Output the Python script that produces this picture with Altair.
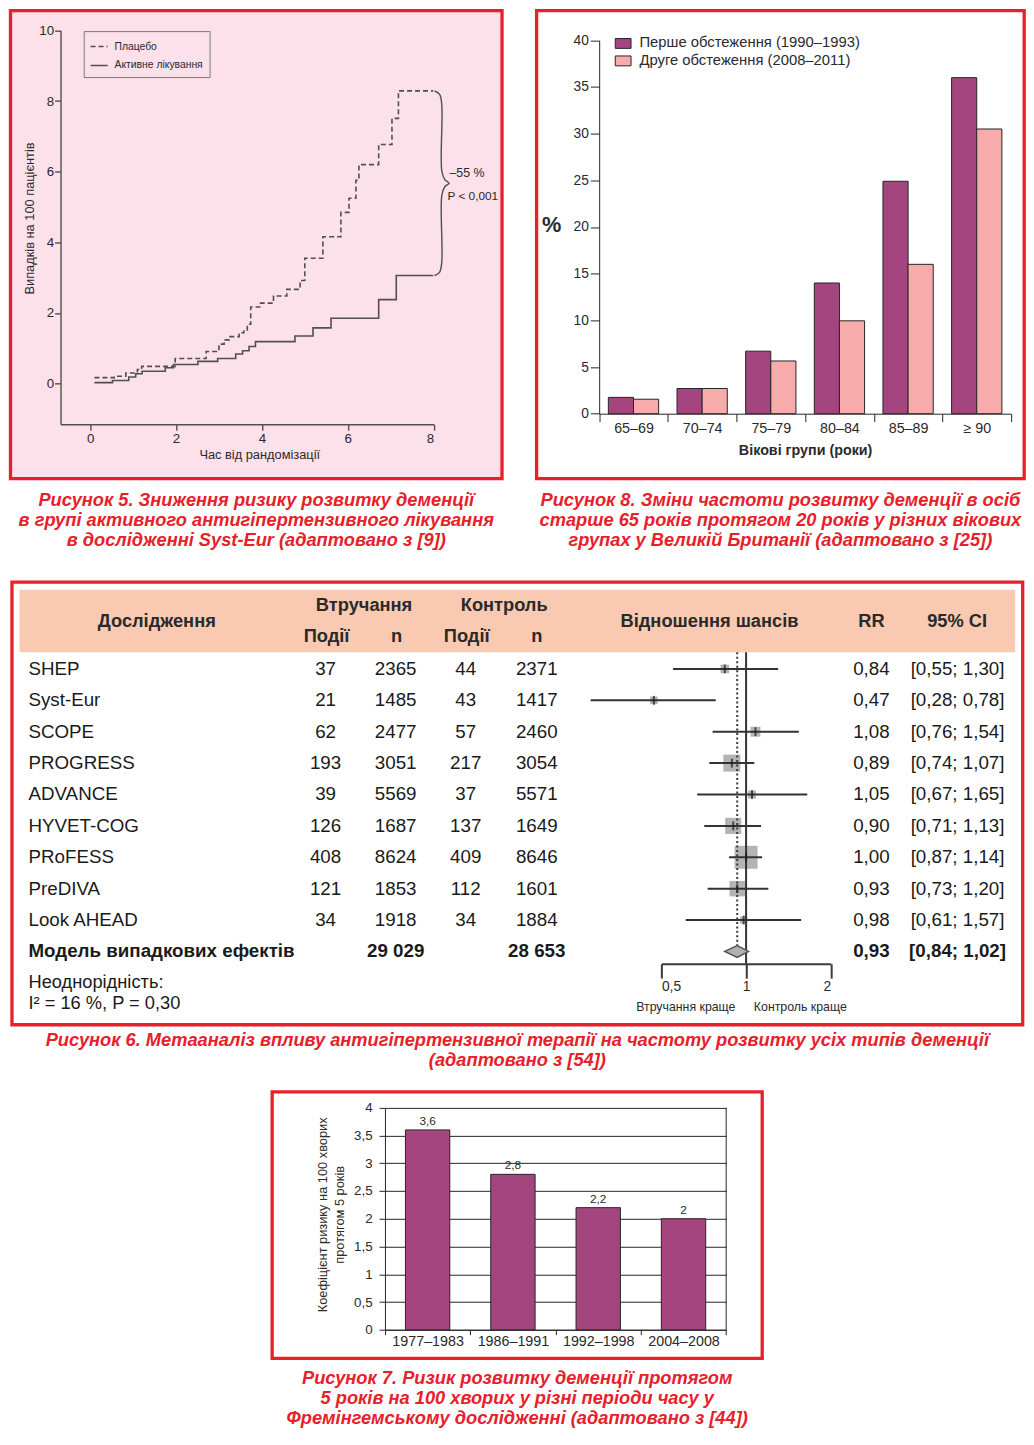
import altair as alt
import pandas as pd

# ====================== DATA ======================
# --- Fig. 5: cumulative dementia cases (Syst-Eur) ---
km_series = ["Плацебо", "Активне лікування"]
placebo_t = [0.1, 0.56, 0.83, 1.1, 1.2, 1.98, 2.7, 3.0, 3.12, 3.24, 3.47, 3.58, 3.66, 3.74,
             3.97, 4.27, 4.58, 4.89, 5.0, 5.42, 5.84, 6.03, 6.19, 6.26, 6.72, 7.03, 7.18, 7.99]
placebo_v = [0.17, 0.21, 0.3, 0.4, 0.49, 0.71, 0.91, 1.12, 1.24, 1.33, 1.44, 1.52, 1.68, 2.17,
             2.28, 2.48, 2.67, 2.92, 3.55, 4.16, 4.85, 5.25, 5.76, 6.2, 6.77, 7.51, 8.29, 8.29]
active_t = [0.1, 0.52, 0.9, 1.06, 1.21, 1.75, 1.94, 2.51, 2.97, 3.39, 3.55, 3.7, 3.85, 4.77,
            5.19, 5.61, 6.72, 7.13, 7.99]
active_v = [0.03, 0.09, 0.19, 0.28, 0.35, 0.45, 0.54, 0.63, 0.71, 0.84, 0.93, 1.05, 1.19, 1.35,
            1.58, 1.85, 2.38, 3.06, 3.06]
km_ticks_x = [0, 2, 4, 6, 8]
km_ticks_y = [0, 2, 4, 6, 8, 10]
km_effect = ["–55 %", "P < 0,001"]

# --- Fig. 8: dementia frequency by age group ---
age_groups = ["65–69", "70–74", "75–79", "80–84", "85–89", "≥ 90"]
surveys = ["Перше обстеження (1990–1993)", "Друге обстеження (2008–2011)"]
first_pct = [1.75, 2.7, 6.7, 14.0, 24.9, 36.0]
second_pct = [1.55, 2.7, 5.65, 9.95, 16.0, 30.5]
pct_ticks = [0, 5, 10, 15, 20, 25, 30, 35, 40]

# --- Fig. 6: meta-analysis ---
studies = ["SHEP", "Syst-Eur", "SCOPE", "PROGRESS", "ADVANCE", "HYVET-COG", "PRoFESS",
           "PreDIVA", "Look AHEAD"]
int_events = [37, 21, 62, 193, 39, 126, 408, 121, 34]
int_n = [2365, 1485, 2477, 3051, 5569, 1687, 8624, 1853, 1918]
ctl_events = [44, 43, 57, 217, 37, 137, 409, 112, 34]
ctl_n = [2371, 1417, 2460, 3054, 5571, 1649, 8646, 1601, 1884]
rr = [0.84, 0.47, 1.08, 0.89, 1.05, 0.90, 1.00, 0.93, 0.98]
ci_lo = [0.55, 0.28, 0.76, 0.74, 0.67, 0.71, 0.87, 0.73, 0.61]
ci_hi = [1.30, 0.78, 1.54, 1.07, 1.65, 1.13, 1.14, 1.20, 1.57]
weights = [4.4, 3.5, 5.9, 17.5, 3.8, 15.6, 31.8, 14.4, 3.1]
pooled_label = "Модель випадкових ефектів"
pooled_rr, pooled_lo, pooled_hi = 0.93, 0.84, 1.02
pooled_int_n, pooled_ctl_n = 29029, 28653
heterogeneity = ["Неоднорідність:", "I² = 16 %, P = 0,30"]
or_ticks = [0.5, 1, 2]
or_sides = ["Втручання краще", "Контроль краще"]

# --- Fig. 7: Framingham ---
periods = ["1977–1983", "1986–1991", "1992–1998", "2004–2008"]
risk = [3.6, 2.8, 2.2, 2.0]
risk_ticks = [0, 0.5, 1, 1.5, 2, 2.5, 3, 3.5, 4]

# --- captions ---
cap5 = ["Рисунок 5. Зниження ризику розвитку деменції",
        "в групі активного антигіпертензивного лікування",
        "в дослідженні Syst-Eur (адаптовано з [9])"]
cap8 = ["Рисунок 8. Зміни частоти розвитку деменції в осіб",
        "старше 65 років протягом 20 років у різних вікових",
        "групах у Великій Британії (адаптовано з [25])"]
cap6 = ["Рисунок 6. Метааналіз впливу антигіпертензивної терапії на частоту розвитку усіх типів деменції",
        "(адаптовано з [54])"]
cap7 = ["Рисунок 7. Ризик розвитку деменції протягом",
        "5 років на 100 хворих у різні періоди часу у",
        "Фремінгемському дослідженні (адаптовано з [44])"]

# ====================== STYLE ======================
S = 0.988          # overall layout scale so that the page fits the window


def s(v):
    return round(v * S, 2)


FONT = "Liberation Sans"
RED = "#e8202a"
PURPLE = "#a4457f"
PINK = "#f7abab"
PEACH = "#f9c9b1"
KM_BG = "#fce0ea"
INK = "#2a2a2a"
DARK = "#262626"
GREY = "#505050"
STROKE = 3.3
HALF = STROKE / 2
ONE = pd.DataFrame({"k": [0]})


def box(fill="white"):
    return alt.ViewBackground(stroke=RED, strokeWidth=STROKE, fill=fill)


def caption(lines, offset):
    return alt.TitleParams(text=lines, orient="bottom", anchor="middle", font=FONT,
                           fontSize=s(18.5), fontWeight="bold", fontStyle="italic", color=RED,
                           lineHeight=s(20.3), offset=s(offset))


def txt(t, x, y, size=13, weight="normal", align="center", color=INK):
    return alt.Chart(ONE).mark_text(text=t, fontSize=s(size), fontWeight=weight, align=align,
                                    baseline="middle", font=FONT, color=color).encode(
        x=alt.value(s(x)), y=alt.value(s(y)))


# panel sizes (reference pixels) and spacing
W1, H1 = 498, 474
W2, H2 = 494, 474
W3, H3 = 1024, 448.5
W4, H4 = 496.5, 270
SP_ROW = 31
# view origins inside the root group (legends are placed relative to it)
FIG5_X0, FIG5_Y0 = HALF, HALF
FIG8_X0, FIG8_Y0 = HALF + s(W1) + HALF + s(SP_ROW) + HALF, HALF

# ====================== FIG 5 ======================
km_df = pd.DataFrame({
    "t": placebo_t + active_t,
    "v": placebo_v + active_v,
    "s": [km_series[0]] * len(placebo_t) + [km_series[1]] * len(active_t),
})
sx1 = alt.Scale(domain=[-0.69, 8], range=[s(50.7), s(428.7)], nice=False, zero=False)
sy1 = alt.Scale(domain=[-1.15, 10], range=[s(419), s(20)], nice=False, zero=False)
ax1 = alt.Axis(values=km_ticks_x, offset=-s(H1 - 419), title="Час від рандомізації",
               titleX=s(252), titleY=s(31), titleBaseline="middle", titleFontSize=s(13),
               titleFontWeight="normal", labelFontSize=s(13.5), labelPadding=s(1),
               tickSize=s(6), tickWidth=1.4, domainWidth=1.4, tickColor=GREY, domainColor=GREY)
ay1 = alt.Axis(values=km_ticks_y, offset=-s(50.7), title="Випадків на 100 пацієнтів",
               titleX=-s(31), titleY=s(210), titleAngle=-90, titleBaseline="middle",
               titleAlign="center", titleFontSize=s(13), titleFontWeight="normal",
               labelFontSize=s(13.5), labelPadding=s(1), tickSize=s(6), tickWidth=1.4,
               domainWidth=1.4, tickColor=GREY, domainColor=GREY)

km_lines = alt.Chart(km_df).mark_line(interpolate="step-after", strokeWidth=1.6, color=GREY).encode(
    x=alt.X("t:Q", scale=sx1, axis=ax1),
    y=alt.Y("v:Q", scale=sy1, axis=ay1),
    strokeDash=alt.StrokeDash(
        "s:N", sort=km_series,
        scale=alt.Scale(domain=km_series, range=[[5, 3], [1, 0]]),
        legend=alt.Legend(title=None, orient="none", legendX=FIG5_X0 + s(73),
                          legendY=FIG5_Y0 + s(19), padding=s(6), strokeColor="#7a7a7a",
                          symbolType="stroke", symbolSize=300 * S * S, symbolStrokeWidth=1.6,
                          symbolStrokeColor=GREY, labelFont=FONT, labelFontSize=s(10.5),
                          labelColor=INK, labelOffset=s(6), rowPadding=s(4), labelLimit=400)),
)

xe, top_v, bot_v = placebo_t[-1], placebo_v[-1], active_v[-1]
mid_v = (top_v + bot_v) / 2
brace_dx = [0.03, 0.15, 0.2, 0.2, 0.27, 0.37, 0.27, 0.2, 0.2, 0.15, 0.03]
brace_y = [top_v, top_v - 0.1, top_v - 0.4, mid_v + 0.35, mid_v + 0.1, mid_v, mid_v - 0.1,
           mid_v - 0.35, bot_v + 0.4, bot_v + 0.1, bot_v]
brace_df = pd.DataFrame({"i": list(range(len(brace_dx))), "x": [xe + d for d in brace_dx],
                         "y": brace_y})
km_brace = alt.Chart(brace_df).mark_line(interpolate="catmull-rom", color=GREY, strokeWidth=1.4).encode(
    x=alt.X("x:Q", scale=sx1, axis=ax1),
    y=alt.Y("y:Q", scale=sy1, axis=ay1),
    order="i:Q",
)

fig5 = alt.layer(
    km_lines, km_brace,
    txt(km_effect[0], 444.7, 164, size=12.5, align="left"),
    txt(km_effect[1], 442.7, 188, size=12, align="left"),
).properties(width=s(W1), height=s(H1), view=box(KM_BG), title=caption(cap5, 13.3))

# ====================== FIG 8 ======================
df8 = pd.DataFrame({"g": age_groups * 2,
                    "s": [surveys[0]] * len(age_groups) + [surveys[1]] * len(age_groups),
                    "v": first_pct + second_pct})
fig8 = alt.Chart(df8).mark_bar(stroke=DARK, strokeWidth=1).encode(
    x=alt.X("g:N", sort=age_groups,
            scale=alt.Scale(range=[s(63.4), s(480.7)], paddingInner=0, paddingOuter=0),
            axis=alt.Axis(title="Вікові групи (роки)", labelAngle=0, tickBand="extent",
                          offset=-s(H2 - 408.3), titleY=s(37.7), titleBaseline="middle",
                          titleFontSize=s(14.5), titleFontWeight="bold", labelFontSize=s(14.5),
                          labelPadding=0, tickSize=s(8), tickColor=DARK, domainColor=DARK)),
    xOffset=alt.XOffset("s:N", sort=surveys,
                        scale=alt.Scale(paddingInner=0, paddingOuter=0.365)),
    y=alt.Y("v:Q", scale=alt.Scale(domain=[0, 40], range=[s(408.3), s(30)], nice=False),
            axis=alt.Axis(values=pct_ticks, offset=-s(63.4), title="%", titleAngle=0,
                          titleX=-s(48.7), titleY=s(217), titleBaseline="middle",
                          titleAlign="center", titleFontSize=s(22), titleFontWeight="bold",
                          labelFontSize=s(14), tickSize=s(9), labelPadding=s(2), tickColor=DARK,
                          domainColor=DARK)),
    fill=alt.Fill("s:N", sort=surveys, scale=alt.Scale(domain=surveys, range=[PURPLE, PINK]),
                  legend=alt.Legend(title=None, orient="none", legendX=FIG8_X0 + s(79.7),
                                    legendY=FIG8_Y0 + s(24), padding=0,
                                    symbolType="M-1.6,-1H1.6V1H-1.6Z",
                                    symbolSize=100 * S * S, symbolStrokeColor=DARK,
                                    symbolStrokeWidth=1, symbolOpacity=1, labelOffset=s(9),
                                    labelFont=FONT, labelFontSize=s(15), labelColor=INK,
                                    rowPadding=s(1.5), labelLimit=400)),
).properties(width=s(W2), height=s(H2), view=box(), title=caption(cap8, 13.3))

# ====================== FIG 6 ======================
ROW0, ROWSTEP = 88, 31.8
rowscale = alt.Scale(domain=[0, 9], range=[s(ROW0), s(ROW0 + 9 * ROWSTEP)], nice=False, zero=False)
orscale = alt.Scale(type="log", domain=[0.5, 2], range=[s(658), s(829.5)], nice=False)
axf = alt.Axis(values=or_ticks, title=None, offset=-s(H3 - 386.7), tickSize=s(14.5), tickWidth=2,
               domainWidth=2, tickColor="#3a3a3a", domainColor="#3a3a3a", labelFontSize=s(14),
               labelPadding=s(1), labelColor=INK,
               labelExpr="replace(format(datum.value, '~g'), '.', ',')")


def fmt2(v):
    return f"{v:.2f}".replace(".", ",")


def thousands(n):
    return f"{n:,}".replace(",", " ")


ft = pd.DataFrame({
    "study": studies, "ie": [str(v) for v in int_events], "in": [str(v) for v in int_n],
    "ce": [str(v) for v in ctl_events], "cn": [str(v) for v in ctl_n],
    "rr": rr, "lo": ci_lo, "hi": ci_hi, "w": weights,
    "rr_s": [fmt2(v) for v in rr],
    "ci_s": [f"[{fmt2(a)}; {fmt2(b)}]" for a, b in zip(ci_lo, ci_hi)],
    "row": list(range(len(studies))),
})
pooled_row = len(studies)
pf = pd.DataFrame({"study": [pooled_label], "in": [thousands(pooled_int_n)],
                   "cn": [thousands(pooled_ctl_n)], "rr_s": [fmt2(pooled_rr)],
                   "ci_s": [f"[{fmt2(pooled_lo)}; {fmt2(pooled_hi)}]"], "row": [pooled_row]})
DH = 0.19
dia = pd.DataFrame({"x": [pooled_lo, pooled_rr, pooled_hi],
                    "ya": [pooled_row, pooled_row - DH, pooled_row],
                    "yb": [pooled_row, pooled_row + DH, pooled_row]})


def col(data, field, x, align="center", weight="normal"):
    return alt.Chart(data).mark_text(align=align, baseline="middle", fontSize=s(19), font=FONT,
                                     color="#1a1a1a", fontWeight=weight).encode(
        x=alt.value(s(x)), y=alt.Y("row:Q", scale=rowscale, axis=None), text=f"{field}:N")


header = alt.Chart(ONE).mark_rect(fill=PEACH).encode(
    x=alt.value(s(7.7)), x2=alt.value(s(1016.4)), y=alt.value(s(7.7)), y2=alt.value(s(71)))
hdr = [
    txt("Дослідження", 146.7, 40, 18.5, "bold"),
    txt("Втручання", 356.7, 24, 18.5, "bold"),
    txt("Контроль", 498.7, 24, 18.5, "bold"),
    txt("Події", 318.7, 56, 18.5, "bold"),
    txt("n", 389.7, 56, 18.5, "bold"),
    txt("Події", 460.7, 56, 18.5, "bold"),
    txt("n", 531.7, 56, 18.5, "bold"),
    txt("Відношення шансів", 706.7, 40, 18.5, "bold"),
    txt("RR", 870.7, 40, 18.5, "bold"),
    txt("95% CI", 957.5, 40, 18.5, "bold"),
]

squares = alt.Chart(ft).mark_square(color="#b4b4b4", opacity=1).encode(
    x=alt.X("rr:Q", scale=orscale, axis=axf),
    y=alt.Y("row:Q", scale=rowscale, axis=None),
    size=alt.Size("w:Q", scale=alt.Scale(domain=[0, 31.8], range=[0, 543 * S * S]), legend=None),
)
vline = alt.Chart(ONE).mark_rule(color="#333333", strokeWidth=2).encode(
    x=alt.XDatum(1, scale=orscale, axis=axf),
    y=alt.YDatum(-0.535, scale=rowscale, axis=None),
    y2=alt.Y2Datum(9.39),
)
dotted = alt.Chart(ONE).mark_rule(color="#3a3a3a", strokeWidth=2, strokeDash=[2, 2.5]).encode(
    x=alt.XDatum(pooled_rr, scale=orscale, axis=axf),
    y=alt.YDatum(-0.535, scale=rowscale, axis=None),
    y2=alt.Y2Datum(pooled_row - DH),
)
ci = alt.Chart(ft).mark_rule(color="#333333", strokeWidth=2).encode(
    x=alt.X("lo:Q", scale=orscale, axis=axf), x2="hi:Q",
    y=alt.Y("row:Q", scale=rowscale, axis=None),
)
est = alt.Chart(ft).mark_tick(orient="vertical", color="#1a1a1a", size=s(9), thickness=2).encode(
    x=alt.X("rr:Q", scale=orscale, axis=axf),
    y=alt.Y("row:Q", scale=rowscale, axis=None),
)
diamond = alt.Chart(dia).mark_area(color="#b0b0b0", stroke="#555555", strokeWidth=1.5,
                                   opacity=1).encode(
    x=alt.X("x:Q", scale=orscale, axis=axf),
    y=alt.Y("ya:Q", scale=rowscale, axis=None), y2="yb:Q",
)

table = [
    col(ft, "study", 16.7, align="left"),
    col(ft, "ie", 317.7), col(ft, "in", 388.7), col(ft, "ce", 459.7), col(ft, "cn", 531.7),
    col(ft, "rr_s", 870.7), col(ft, "ci_s", 958),
    col(pf, "study", 16.7, align="left", weight="bold"),
    col(pf, "in", 388.7, weight="bold"), col(pf, "cn", 531.7, weight="bold"),
    col(pf, "rr_s", 870.7, weight="bold"), col(pf, "ci_s", 958, weight="bold"),
]
extras = [
    txt(heterogeneity[0], 16.7, 406, 18.5, align="left", color="#1a1a1a"),
    txt(heterogeneity[1], 16.7, 427, 18.5, align="left", color="#1a1a1a"),
    txt(or_sides[0], 682.7, 431, 12.5),
    txt(or_sides[1], 798.7, 431, 12.5),
]

fig6 = alt.layer(header, *hdr, squares, vline, dotted, ci, est, diamond, *table, *extras).properties(
    width=s(W3), height=s(H3), view=box(), title=caption(cap6, 7.5))

# ====================== FIG 7 ======================
df7 = pd.DataFrame({"p": periods, "r": risk})
sx4 = alt.Scale(range=[s(114.3), s(460)], paddingInner=0, paddingOuter=0)
sy4 = alt.Scale(domain=[0, 4], range=[s(241), s(16)], nice=False)
ax4 = alt.Axis(title=None, labelAngle=0, tickBand="extent", offset=-s(H4 - 241), tickSize=s(5),
               labelPadding=0, labelFontSize=s(14.5), domainColor=DARK, tickColor=DARK)
ay4 = alt.Axis(values=risk_ticks, grid=True, gridColor=DARK, gridWidth=1, offset=-s(114.3),
               labelExpr="replace(format(datum.value, '~g'), '.', ',')", tickSize=s(6),
               labelPadding=s(7), labelFontSize=s(13.5), domainColor=DARK, tickColor=DARK,
               title=["Коефіцієнт ризику на 100 хворих", "протягом 5 років"],
               titleFontSize=s(13), titleFontWeight="normal", titleX=-s(62.8), titleY=s(124),
               titleBaseline="middle", titleAngle=-90, titleAlign="center",
               titleLineHeight=s(17))

bars7 = alt.Chart(df7).mark_bar(fill=PURPLE, stroke=DARK, strokeWidth=1,
                                width=alt.RelativeBandSize(0.52)).encode(
    x=alt.X("p:N", sort=periods, scale=sx4, axis=ax4),
    y=alt.Y("r:Q", scale=sy4, axis=ay4),
)
labels7 = alt.Chart(df7).transform_calculate(
    lbl="replace(format(datum.r, '~g'), '.', ',')"
).mark_text(dy=-s(9), fontSize=s(12), baseline="middle", font=FONT, color=INK).encode(
    x=alt.X("p:N", sort=periods, scale=sx4, axis=ax4),
    y=alt.Y("r:Q", scale=sy4, axis=ay4),
    text="lbl:N",
)
frame7 = alt.Chart(ONE).mark_rule(color=DARK, strokeWidth=1).encode(
    x=alt.value(s(460)),
    y=alt.YDatum(risk_ticks[-1], scale=sy4, axis=ay4),
    y2=alt.Y2Datum(risk_ticks[0]),
)
fig7 = alt.layer(bars7, labels7, frame7).properties(
    width=s(W4), height=s(H4), view=box(), title=caption(cap7, 12.1))

# ====================== LAYOUT ======================
row1 = alt.hconcat(fig5, fig8, spacing=s(SP_ROW))
upper = alt.vconcat(row1, fig6, spacing=s(29.3), center=True)
chart = alt.vconcat(upper, fig7, spacing=s(18.5), center=True).properties(
    padding=0, background="white"
).configure_axis(
    labelFont=FONT, titleFont=FONT, labelColor=INK, titleColor=INK, grid=False
).configure_legend(labelFont=FONT)

chart.save("out.html", embed_options={"renderer": "svg", "actions": False})
